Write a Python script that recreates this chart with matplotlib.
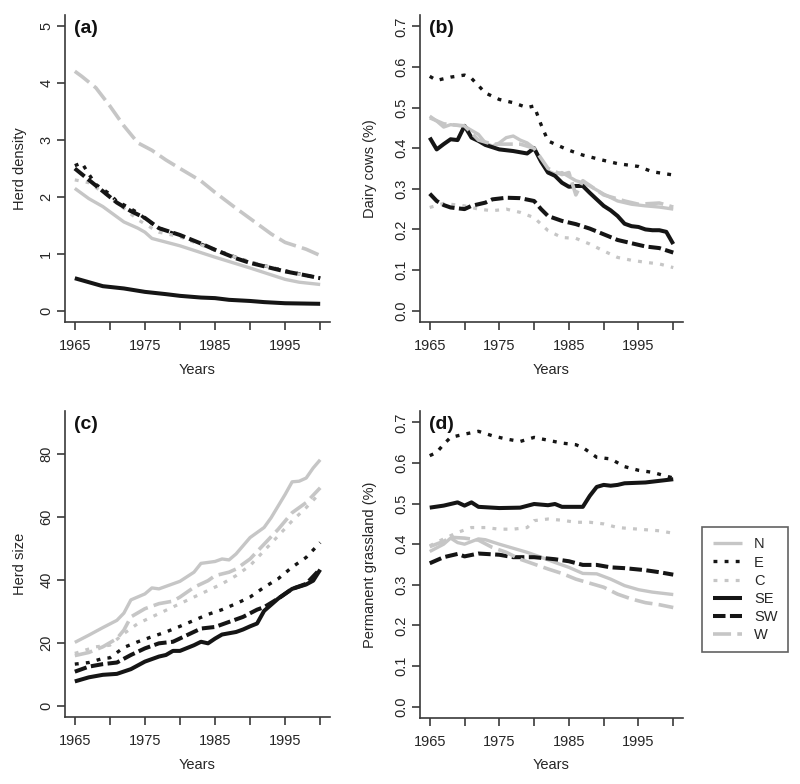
import matplotlib
matplotlib.use("Agg")
import matplotlib.pyplot as plt
from matplotlib.lines import Line2D

plt.rcParams['font.family'] = ['Liberation Sans', 'DejaVu Sans']
plt.rcParams['lines.scale_dashes'] = False

SERIES = ["N", "E", "C", "SE", "SW", "W"]

# ---------- Panel (a): Herd density ----------
A_N_YR = [1965, 1967, 1969, 1971, 1972, 1974, 1975, 1976, 1980, 1985, 1990, 1995, 1997, 2000]
A_N = [2.15, 1.97, 1.83, 1.65, 1.56, 1.45, 1.38, 1.27, 1.14, 0.94, 0.75, 0.55, 0.50, 0.46]
A_E_YR = [1965, 1966, 1967, 1968, 1970, 1971, 1972, 1974, 1975, 1977, 1980, 1985, 1990, 1995, 2000]
A_E = [2.55, 2.60, 2.40, 2.22, 2.05, 1.92, 1.86, 1.72, 1.62, 1.45, 1.32, 1.07, 0.85, 0.70, 0.57]
A_C_YR = [1965, 1967, 1970, 1972, 1974, 1976, 1977, 1980, 1985, 1990, 1995, 2000]
A_C = [2.30, 2.25, 2.00, 1.80, 1.60, 1.45, 1.38, 1.30, 1.06, 0.86, 0.69, 0.57]
A_SE_YR = [1965, 1967, 1969, 1972, 1975, 1978, 1980, 1983, 1985, 1987, 1990, 1992, 1995, 2000]
A_SE = [0.57, 0.50, 0.43, 0.39, 0.33, 0.29, 0.26, 0.23, 0.22, 0.19, 0.17, 0.15, 0.13, 0.12]
A_SW_YR = [1965, 1967, 1969, 1971, 1973, 1975, 1977, 1980, 1983, 1985, 1988, 1990, 1993, 1995, 1998, 2000]
A_SW = [2.50, 2.30, 2.10, 1.90, 1.75, 1.63, 1.45, 1.33, 1.18, 1.07, 0.92, 0.84, 0.75, 0.69, 0.62, 0.57]
A_W_YR = [1965, 1966, 1968, 1970, 1972, 1974, 1976, 1978, 1980, 1983, 1985, 1988, 1990, 1993, 1995, 1998, 2000]
A_W = [4.21, 4.12, 3.92, 3.60, 3.25, 2.95, 2.82, 2.65, 2.50, 2.28, 2.08, 1.80, 1.62, 1.35, 1.20, 1.08, 0.97]

# ---------- Panel (b): Dairy cows (%) ----------
B_N_YR = [1965, 1966, 1967, 1968, 1970, 1972, 1973, 1974, 1975, 1976, 1977, 1978, 1979, 1980, 1981, 1982, 1983,
          1984, 1985, 1986, 1987, 1988, 1990, 1992, 1994, 1996, 1998, 2000]
B_N = [0.479, 0.467, 0.452, 0.458, 0.454, 0.434, 0.413, 0.405, 0.413, 0.426, 0.430, 0.420, 0.413, 0.400, 0.368,
       0.344, 0.336, 0.340, 0.330, 0.320, 0.315, 0.307, 0.287, 0.270, 0.262, 0.258, 0.255, 0.250]
B_E_YR = [1965, 1966, 1968, 1970, 1971, 1973, 1975, 1977, 1979, 1980, 1981, 1982, 1983, 1985, 1987, 1990, 1992,
          1995, 1997, 2000]
B_E = [0.577, 0.567, 0.575, 0.580, 0.572, 0.536, 0.520, 0.512, 0.500, 0.504, 0.458, 0.418, 0.410, 0.395, 0.383,
       0.370, 0.362, 0.355, 0.342, 0.334]
B_C_YR = [1965, 1967, 1970, 1972, 1974, 1976, 1978, 1980, 1982, 1984, 1986, 1988, 1990, 1992, 1994, 1996, 1998, 2000]
B_C = [0.254, 0.264, 0.258, 0.250, 0.246, 0.250, 0.242, 0.229, 0.197, 0.180, 0.178, 0.164, 0.147, 0.131, 0.124,
       0.119, 0.115, 0.106]
B_SE_YR = [1965, 1966, 1967, 1968, 1969, 1970, 1971, 1972, 1973, 1975, 1977, 1979, 1980, 1981, 1982, 1983, 1984,
           1985, 1986, 1987, 1988, 1989, 1990, 1991, 1992, 1993, 1994, 1995, 1996, 1997, 1998, 1999, 2000]
B_SE = [0.426, 0.397, 0.410, 0.422, 0.420, 0.455, 0.426, 0.418, 0.408, 0.397, 0.393, 0.387, 0.400, 0.367, 0.340,
        0.332, 0.315, 0.305, 0.307, 0.307, 0.290, 0.274, 0.258, 0.247, 0.233, 0.214, 0.208, 0.206, 0.200, 0.198,
        0.198, 0.194, 0.164]
B_SW_YR = [1965, 1966, 1967, 1968, 1970, 1971, 1973, 1974, 1976, 1978, 1980, 1981, 1982, 1984, 1986, 1988, 1990,
           1992, 1994, 1996, 1998, 2000]
B_SW = [0.288, 0.270, 0.260, 0.254, 0.250, 0.258, 0.266, 0.274, 0.278, 0.277, 0.270, 0.250, 0.233, 0.221, 0.213,
        0.202, 0.188, 0.174, 0.166, 0.158, 0.154, 0.143]
B_W_YR = [1965, 1967, 1970, 1972, 1974, 1976, 1978, 1980, 1982, 1984, 1985, 1986, 1987, 1990, 1993, 1995, 1998, 2000]
B_W = [0.475, 0.460, 0.455, 0.420, 0.410, 0.410, 0.410, 0.400, 0.350, 0.335, 0.340, 0.285, 0.320, 0.285, 0.270,
       0.262, 0.265, 0.255]

# ---------- Panel (c): Herd size ----------
C_N_YR = [1965, 1967, 1969, 1971, 1972, 1973, 1975, 1976, 1977, 1979, 1980, 1982, 1983, 1985, 1986, 1987, 1988,
          1990, 1992, 1993, 1995, 1996, 1997, 1998, 1999, 2000]
C_N = [20.1, 22.4, 24.8, 27.1, 29.4, 33.6, 35.5, 37.4, 37.1, 38.7, 39.5, 42.4, 45.2, 45.8, 46.6, 46.3, 48.2, 53.4,
       56.6, 59.7, 67.1, 71.1, 71.3, 72.3, 75.5, 78.1]
C_E_YR = [1965, 1967, 1969, 1970, 1972, 1974, 1976, 1978, 1980, 1982, 1984, 1986, 1988, 1990, 1992, 1994, 1996,
          1998, 2000]
C_E = [13.2, 13.7, 15.0, 15.2, 18.5, 20.3, 21.9, 23.4, 25.2, 27.1, 29.0, 30.5, 32.4, 34.5, 37.6, 40.3, 44.0, 47.1,
       51.8]
C_C_YR = [1965, 1968, 1970, 1972, 1974, 1976, 1978, 1980, 1982, 1984, 1986, 1988, 1990, 1992, 1994, 1996, 1998, 2000]
C_C = [16.6, 18.7, 19.2, 22.9, 26.1, 28.2, 30.3, 32.4, 34.5, 36.6, 38.7, 41.3, 44.5, 49.2, 53.9, 58.7, 62.9, 67.6]
C_SE_YR = [1965, 1967, 1969, 1971, 1973, 1975, 1977, 1978, 1979, 1980, 1982, 1983, 1984, 1985, 1986, 1988, 1989,
           1990, 1991, 1992, 1994, 1996, 1998, 1999, 2000]
C_SE = [7.7, 9.0, 9.8, 10.1, 11.6, 14.0, 15.6, 16.1, 17.4, 17.4, 19.2, 20.3, 19.8, 21.3, 22.6, 23.4, 24.2, 25.2,
        26.1, 30.1, 34.0, 37.1, 38.5, 39.7, 43.2]
C_SW_YR = [1965, 1967, 1969, 1971, 1973, 1975, 1977, 1979, 1981, 1983, 1985, 1987, 1989, 1991, 1992, 1994, 1996,
           1998, 2000]
C_SW = [10.8, 12.4, 13.2, 13.7, 16.1, 18.2, 19.8, 20.3, 22.4, 24.5, 25.0, 26.6, 28.2, 30.5, 31.3, 34.0, 37.1, 38.7,
        43.4]
C_W_YR = [1965, 1967, 1969, 1971, 1972, 1973, 1975, 1977, 1979, 1980, 1982, 1984, 1985, 1987, 1988, 1990, 1992,
          1994, 1996, 1998, 2000]
C_W = [15.9, 16.9, 18.7, 21.3, 24.0, 28.2, 30.8, 32.4, 33.2, 34.5, 37.6, 39.7, 41.3, 42.4, 43.4, 46.6, 51.3, 56.0,
       61.3, 64.5, 69.2]

# ---------- Panel (d): Permanent grassland (%) ----------
D_N_YR = [1965, 1967, 1968, 1969, 1970, 1972, 1973, 1975, 1977, 1979, 1981, 1983, 1985, 1987, 1989, 1991, 1993,
          1995, 1997, 2000]
D_N = [0.382, 0.400, 0.415, 0.404, 0.400, 0.413, 0.411, 0.400, 0.390, 0.380, 0.368, 0.355, 0.343, 0.328, 0.327,
       0.314, 0.298, 0.288, 0.282, 0.276]
D_E_YR = [1965, 1966, 1967, 1968, 1970, 1972, 1974, 1976, 1978, 1980, 1982, 1984, 1986, 1987, 1989, 1991, 1993,
          1995, 1997, 2000]
D_E = [0.618, 0.626, 0.646, 0.663, 0.671, 0.678, 0.667, 0.659, 0.653, 0.663, 0.656, 0.649, 0.645, 0.638, 0.614,
       0.610, 0.591, 0.582, 0.577, 0.563]
D_C_YR = [1965, 1967, 1969, 1971, 1973, 1975, 1977, 1979, 1980, 1982, 1984, 1986, 1988, 1990, 1992, 1995, 1998, 2000]
D_C = [0.396, 0.413, 0.429, 0.441, 0.441, 0.437, 0.437, 0.441, 0.458, 0.462, 0.459, 0.454, 0.454, 0.450, 0.441,
       0.437, 0.433, 0.427]
D_SE_YR = [1965, 1967, 1969, 1970, 1971, 1972, 1975, 1978, 1980, 1982, 1983, 1984, 1987, 1988, 1989, 1990, 1991,
           1992, 1993, 1996, 2000]
D_SE = [0.490, 0.495, 0.503, 0.495, 0.503, 0.492, 0.489, 0.490, 0.499, 0.496, 0.499, 0.492, 0.492, 0.519, 0.541,
        0.546, 0.544, 0.546, 0.550, 0.552, 0.560]
D_SW_YR = [1965, 1967, 1969, 1970, 1972, 1975, 1977, 1980, 1983, 1985, 1987, 1989, 1991, 1993, 1996, 1998, 2000]
D_SW = [0.353, 0.368, 0.376, 0.370, 0.377, 0.374, 0.368, 0.368, 0.363, 0.358, 0.349, 0.349, 0.343, 0.341, 0.336,
        0.331, 0.325]
D_W_YR = [1965, 1967, 1968, 1970, 1972, 1974, 1976, 1978, 1980, 1982, 1984, 1986, 1988, 1990, 1992, 1994, 1996,
          1998, 2000]
D_W = [0.394, 0.407, 0.417, 0.415, 0.410, 0.392, 0.380, 0.363, 0.351, 0.339, 0.328, 0.314, 0.304, 0.294, 0.277,
       0.265, 0.256, 0.251, 0.244]

X_TICKS = [1965, 1970, 1975, 1980, 1985, 1990, 1995, 2000]
X_LABELS = ["1965", "", "1975", "", "1985", "", "1995", ""]
A_YTICKS = [0, 1, 2, 3, 4, 5]
B_YTICKS = [0.0, 0.1, 0.2, 0.3, 0.4, 0.5, 0.6, 0.7]
C_YTICKS = [0, 20, 40, 60, 80]
D_YTICKS = [0.0, 0.1, 0.2, 0.3, 0.4, 0.5, 0.6, 0.7]

LIGHT = '#c6c6c6'
DARK = '#151515'
STYLE = {
    "N": dict(color=LIGHT, lw=2.4, linestyle='-'),
    "E": dict(color=DARK, lw=2.4, linestyle=(0, (2.8, 5.2))),
    "C": dict(color=LIGHT, lw=2.3, linestyle=(0, (2.8, 5.2))),
    "SE": dict(color=DARK, lw=2.9, linestyle='-'),
    "SW": dict(color=DARK, lw=2.9, linestyle=(0, (9.0, 3.2))),
    "W": dict(color=LIGHT, lw=2.6, linestyle=(0, (13.0, 4.5))),
}

PANELS = [
    dict(tag="(a)", ylabel="Herd density", ylim=(-0.2, 5.2), yticks=A_YTICKS, fmt="{:.0f}",
         pos=(65, 15, 330, 322),
         data={"N": (A_N_YR, A_N), "E": (A_E_YR, A_E), "C": (A_C_YR, A_C), "SE": (A_SE_YR, A_SE),
               "SW": (A_SW_YR, A_SW), "W": (A_W_YR, A_W)}, ylab_x=27, xlab_y=363),
    dict(tag="(b)", ylabel="Dairy cows (%)", ylim=(-0.028, 0.728), yticks=B_YTICKS, fmt="{:.1f}",
         pos=(420, 15, 683, 322),
         data={"N": (B_N_YR, B_N), "E": (B_E_YR, B_E), "C": (B_C_YR, B_C), "SE": (B_SE_YR, B_SE),
               "SW": (B_SW_YR, B_SW), "W": (B_W_YR, B_W)}, ylab_x=377, xlab_y=363),
    dict(tag="(c)", ylabel="Herd size", ylim=(-3.6, 93.6), yticks=C_YTICKS, fmt="{:.0f}",
         pos=(65, 411, 330, 717),
         data={"N": (C_N_YR, C_N), "E": (C_E_YR, C_E), "C": (C_C_YR, C_C), "SE": (C_SE_YR, C_SE),
               "SW": (C_SW_YR, C_SW), "W": (C_W_YR, C_W)}, ylab_x=27, xlab_y=758),
    dict(tag="(d)", ylabel="Permanent grassland (%)", ylim=(-0.028, 0.728), yticks=D_YTICKS, fmt="{:.1f}",
         pos=(420, 411, 683, 718),
         data={"N": (D_N_YR, D_N), "E": (D_E_YR, D_E), "C": (D_C_YR, D_C), "SE": (D_SE_YR, D_SE),
               "SW": (D_SW_YR, D_SW), "W": (D_W_YR, D_W)}, ylab_x=377, xlab_y=758),
]

W_PX, H_PX = 800, 784
FS = 10.5
fig = plt.figure(figsize=(W_PX / 100, H_PX / 100), dpi=100)
AXC = '#3a3a3a'
TXT = '#262626'

for p in PANELS:
    x0, y0, x1, y1 = p["pos"]
    ax = fig.add_axes([x0 / W_PX, 1 - y1 / H_PX, (x1 - x0) / W_PX, (y1 - y0) / H_PX])
    for s in SERIES:
        yrs, vals = p["data"][s]
        ax.plot(yrs, vals, label=s, solid_capstyle='butt', dash_capstyle='butt', **STYLE[s])
    ax.set_xlim(1963.6, 2001.4)
    ax.set_ylim(*p["ylim"])
    ax.set_xticks(X_TICKS)
    ax.set_xticklabels(X_LABELS)
    ax.set_yticks(p["yticks"])
    ax.set_yticklabels([p["fmt"].format(v) for v in p["yticks"]], rotation=90, va='center')
    for sp in ("top", "right"):
        ax.spines[sp].set_visible(False)
    for sp in ("left", "bottom"):
        ax.spines[sp].set_color(AXC)
        ax.spines[sp].set_linewidth(1.2)
    ax.tick_params(axis='both', direction='out', length=5.5, width=1.2, color=AXC,
                   labelsize=FS, labelcolor=TXT)
    ax.tick_params(axis='x', pad=6.5)
    ax.tick_params(axis='y', pad=3.0)
    ax.set_xlabel("Years", fontsize=FS, color=TXT)
    ax.xaxis.set_label_coords(0.5, (y1 - p["xlab_y"]) / (y1 - y0))
    ax.xaxis.label.set_va('top')
    ax.set_ylabel(p["ylabel"], fontsize=FS, color=TXT)
    ax.yaxis.set_label_coords((p["ylab_x"] - x0) / (x1 - x0), 0.5)
    ax.text(0.034, 0.985, p["tag"], transform=ax.transAxes, fontsize=14, fontweight='bold',
            color='#111111', va='top', ha='left')

handles = [Line2D([0], [0], solid_capstyle='butt', dash_capstyle='butt', **STYLE[s]) for s in SERIES]
leg = fig.legend(handles, SERIES, loc='upper left', bbox_to_anchor=(702 / W_PX, 1 - 527 / H_PX),
                 fontsize=FS, frameon=True, fancybox=False, edgecolor=AXC, borderaxespad=0,
                 handlelength=2.05, handletextpad=0.8, labelspacing=0.28, borderpad=0.72)
leg.get_frame().set_linewidth(1.2)
for t in leg.get_texts():
    t.set_color(TXT)

fig.savefig("out.png", dpi=100)
